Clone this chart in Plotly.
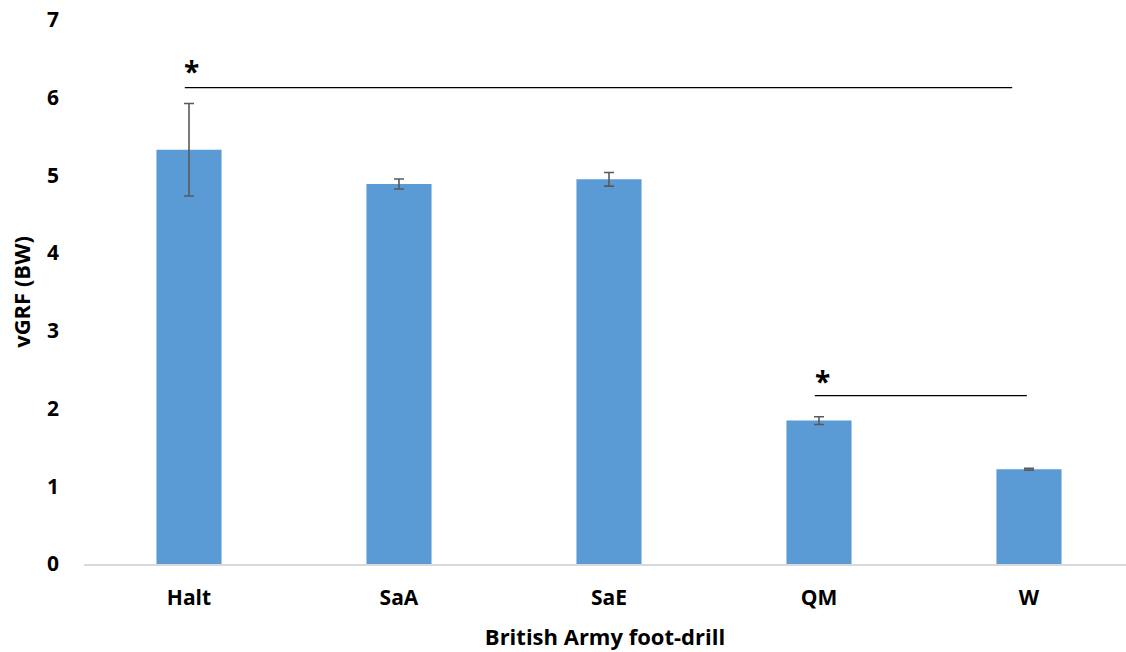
import plotly.graph_objects as go

categories = ["Halt", "SaA", "SaE", "QM", "W"]
values = [5.33, 4.89, 4.95, 1.845, 1.22]
errors = [0.595, 0.065, 0.088, 0.05, 0.012]

# significance brackets: (x0, x1, y)
sig_lines = [(-0.02, 3.92, 6.13), (2.98, 3.99, 2.166)]
sig_stars = [(0.013, 6.34), (3.018, 2.35)]

font_family = "Open Sans, Liberation Sans, Arial, sans-serif"

fig = go.Figure()
fig.add_trace(go.Bar(
    x=list(range(len(categories))),
    y=values,
    width=0.31,
    marker=dict(color="#5B9BD5", line=dict(width=0)),
    error_y=dict(type="data", array=errors, visible=True,
                 color="#595959", thickness=1.6, width=5),
))

for x0, x1, y in sig_lines:
    fig.add_shape(type="line", xref="x", yref="y", x0=x0, x1=x1, y0=y, y1=y,
                  line=dict(color="black", width=1.3))
for x, y in sig_stars:
    fig.add_annotation(x=x, y=y, xref="x", yref="y", text="<b>*</b>",
                       showarrow=False, font=dict(size=28, color="black", family=font_family))

fig.update_layout(
    width=1126, height=652,
    margin=dict(l=84, r=0, t=20, b=88),
    plot_bgcolor="white", paper_bgcolor="white",
    showlegend=False,
    font=dict(family=font_family, color="black"),
    xaxis=dict(
        tickmode="array", tickvals=list(range(len(categories))), ticktext=categories,
        range=[-0.5, 4.462], showgrid=False, zeroline=False,
        showline=True, linecolor="#D9D9D9", linewidth=1.5,
        tickfont=dict(size=21, family=font_family, color="black", weight="bold"),
        ticks="", ticklabelstandoff=14,
        title=dict(text="<b>British Army foot-drill</b>", font=dict(size=22), standoff=20),
    ),
    yaxis=dict(
        range=[0, 7], dtick=1, showgrid=False, zeroline=False, showline=False,
        tickfont=dict(size=21, family=font_family, color="black", weight="bold"),
        ticks="", ticklabelstandoff=24,
        title=dict(text="<b>vGRF (BW)</b>", font=dict(size=22), standoff=10),
    ),
)

fig.write_html("out.html")
